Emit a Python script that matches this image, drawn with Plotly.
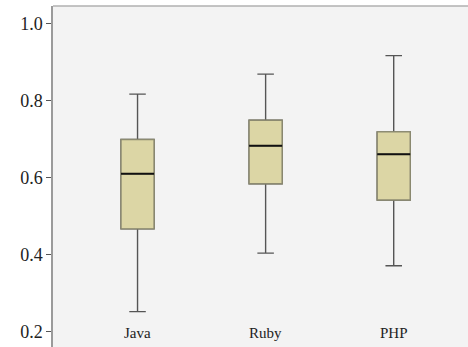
import plotly.graph_objects as go

categories = ["Java", "Ruby", "PHP"]
lower_whisker = [0.251, 0.403, 0.370]
q1_values = [0.466, 0.583, 0.541]
median_values = [0.609, 0.682, 0.660]
q3_values = [0.698, 0.748, 0.718]
upper_whisker = [0.816, 0.868, 0.916]
y_tick_values = [0.2, 0.4, 0.6, 0.8, 1.0]
y_tick_labels = ["0.2", "0.4", "0.6", "0.8", "1.0"]

BOX_W = 0.258
FILL = "#dcd6a5"

fig = go.Figure()
for i, cat in enumerate(categories):
    common = dict(x=[cat], width=BOX_W, boxpoints=False, showlegend=False, hoverinfo="skip")
    # whiskers + box
    fig.add_trace(go.Box(
        q1=[q1_values[i]], median=[median_values[i]], q3=[q3_values[i]],
        lowerfence=[lower_whisker[i]], upperfence=[upper_whisker[i]],
        fillcolor=FILL, line=dict(color="#555555", width=1.4),
        whiskerwidth=0.5, **common,
    ))
    # box outline overlay (lighter olive border)
    fig.add_trace(go.Box(
        q1=[q1_values[i]], median=[median_values[i]], q3=[q3_values[i]],
        lowerfence=[q1_values[i]], upperfence=[q3_values[i]],
        fillcolor=FILL, line=dict(color="#8c8a70", width=1.4),
        whiskerwidth=0, **common,
    ))
    # median overlay (black)
    fig.add_trace(go.Box(
        q1=[median_values[i]], median=[median_values[i]], q3=[median_values[i]],
        lowerfence=[median_values[i]], upperfence=[median_values[i]],
        fillcolor="rgba(0,0,0,0)", line=dict(color="#111111", width=2),
        whiskerwidth=0, **common,
    ))

annotations = [
    dict(x=cat, xref="x", y=0.041, yref="paper", text=cat, showarrow=False,
         yanchor="middle", font=dict(size=15, color="#222222"))
    for cat in categories
]

fig.update_layout(
    width=468,
    height=347,
    margin=dict(l=53, r=0, t=6, b=0, autoexpand=False),
    paper_bgcolor="white",
    plot_bgcolor="#f3f3f3",
    boxmode="overlay",
    font=dict(family="Liberation Serif, Times New Roman, serif", color="#222222"),
    xaxis=dict(
        type="category",
        range=[-0.66, 2.58],
        showgrid=False,
        zeroline=False,
        showline=False,
        ticks="",
        showticklabels=False,
    ),
    yaxis=dict(
        range=[0.159, 1.045],
        tickvals=y_tick_values,
        ticktext=y_tick_labels,
        showgrid=False,
        zeroline=False,
        showline=True,
        linecolor="#9a9a9a",
        linewidth=1.5,
        ticks="outside",
        ticklen=5,
        tickcolor="#555555",
        tickfont=dict(size=18, color="#222222"),
        ticklabeloverflow="allow",
    ),
    annotations=annotations,
    shapes=[dict(type="line", xref="paper", yref="paper", x0=0, x1=1, y0=1, y1=1,
                 line=dict(color="#b0b0b0", width=1.5))],
)

fig.write_html("out.html", config={"displayModeBar": False},
               post_script="document.body.style.margin='0px';document.body.style.overflow='hidden';")
